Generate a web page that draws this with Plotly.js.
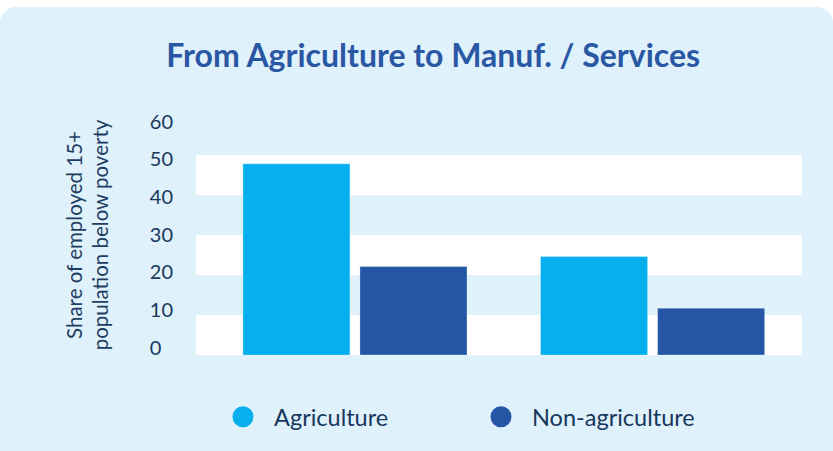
<!DOCTYPE html>
<html>
<head>
<meta charset="utf-8">
<script src="https://cdn.plot.ly/plotly-3.0.1.min.js"></script>
<style>
  html, body { margin: 0; padding: 0; background: #ffffff; width: 833px; height: 451px; overflow: hidden; }
  #panel { position: absolute; left: 0; top: 7px; width: 833px; height: 460px; background: #dff1fb; border-radius: 16px; }
  #chart { position: absolute; left: 0; top: 0; width: 833px; height: 451px; }
</style>
</head>
<body>
<div id="panel"></div>
<div id="chart"></div>
<script>
// ---- data ----
const categories = ['Group A', 'Group B'];
const agriculture = [47.8, 24.6];
const nonAgriculture = [22.1, 11.7];
const seriesNames = ['Agriculture', 'Non-agriculture'];
const tickValues = [0, 10, 20, 30, 40, 50, 60];
const tickLabels = ['0\u2007', '10', '20', '30', '40', '50', '60'];
const bandStarts = [0, 20, 40];
const bandSize = 10;

const colAgri = '#06b0ef';
const colNon = '#2556a5';
const textDark = '#17375c';

const traces = [
  { type: 'bar', x: categories, y: agriculture, name: seriesNames[0], legendgroup: 'a', showlegend: false,
    marker: { color: colAgri, line: { color: 'rgba(255,255,255,0.3)', width: 1 } }, hoverinfo: 'y' },
  { type: 'bar', x: categories, y: nonAgriculture, name: seriesNames[1], legendgroup: 'n', showlegend: false,
    marker: { color: colNon, line: { color: 'rgba(255,255,255,0.3)', width: 1 } }, hoverinfo: 'y' },
  { type: 'scatter', mode: 'markers', x: [null], y: [null], name: seriesNames[0], legendgroup: 'a',
    marker: { symbol: 'circle', color: colAgri, size: 16, line: { color: colAgri, width: 5 } } },
  { type: 'scatter', mode: 'markers', x: [null], y: [null], name: seriesNames[1], legendgroup: 'n',
    marker: { symbol: 'circle', color: colNon, size: 16, line: { color: colNon, width: 5 } } },
  { type: 'scatter', mode: 'markers', x: [null], y: [null], yaxis: 'y2', showlegend: false, hoverinfo: 'skip' }
];

const shapes = bandStarts.map(b => ({
  type: 'rect', layer: 'below', xref: 'paper', x0: 0, x1: 1, yref: 'y', y0: b, y1: b + bandSize,
  fillcolor: '#ffffff', line: { width: 0 }
}));

const layout = {
  width: 833, height: 451,
  paper_bgcolor: 'rgba(0,0,0,0)', plot_bgcolor: 'rgba(0,0,0,0)',
  margin: { l: 196, r: 31, t: 115, b: 96, pad: 0 },
  font: { family: 'Lato, "Open Sans", sans-serif', color: textDark, size: 18 },
  title: {
    text: 'From Agriculture to Manuf. / Services',
    font: { family: 'Lato, sans-serif', size: 32, weight: 700, color: '#2a57a3' },
    x: 0.52, xanchor: 'center', y: 0.877, yanchor: 'middle', xref: 'container', yref: 'container'
  },
  barmode: 'group', bargap: 0.2134, bargroupgap: 0.0855,
  xaxis: { type: 'category', range: [-0.534, 1.502], showticklabels: false, showgrid: false,
           zeroline: false, showline: false, ticks: '', fixedrange: true },
  yaxis: { range: [0, 60], showticklabels: false, showgrid: false, zeroline: false, showline: false,
           ticks: '', fixedrange: true,
           title: { text: 'Share of employed 15+<br>population below poverty', standoff: 80,
                    font: { size: 20.5, color: '#1d3d63' } } },
  yaxis2: { overlaying: 'y', side: 'left', range: [-1.99, 61.78], tickmode: 'array',
            tickvals: tickValues, ticktext: tickLabels, showgrid: false, zeroline: false, showline: false,
            ticks: '', ticklabelstandoff: 22, tickfont: { size: 20, color: textDark }, fixedrange: true },
  shapes: shapes,
  showlegend: true,
  legend: {
    orientation: 'h', x: 212 / 833, xref: 'container', xanchor: 'left',
    y: 1 - 417 / 451, yref: 'container', yanchor: 'middle',
    itemwidth: 52, entrywidth: 191, entrywidthmode: 'pixels',
    font: { size: 23.5, color: textDark }, bgcolor: 'rgba(0,0,0,0)', itemclick: false, itemdoubleclick: false
  }
};

Plotly.newPlot('chart', traces, layout, { displayModeBar: false, staticPlot: true });
</script>
</body>
</html>
